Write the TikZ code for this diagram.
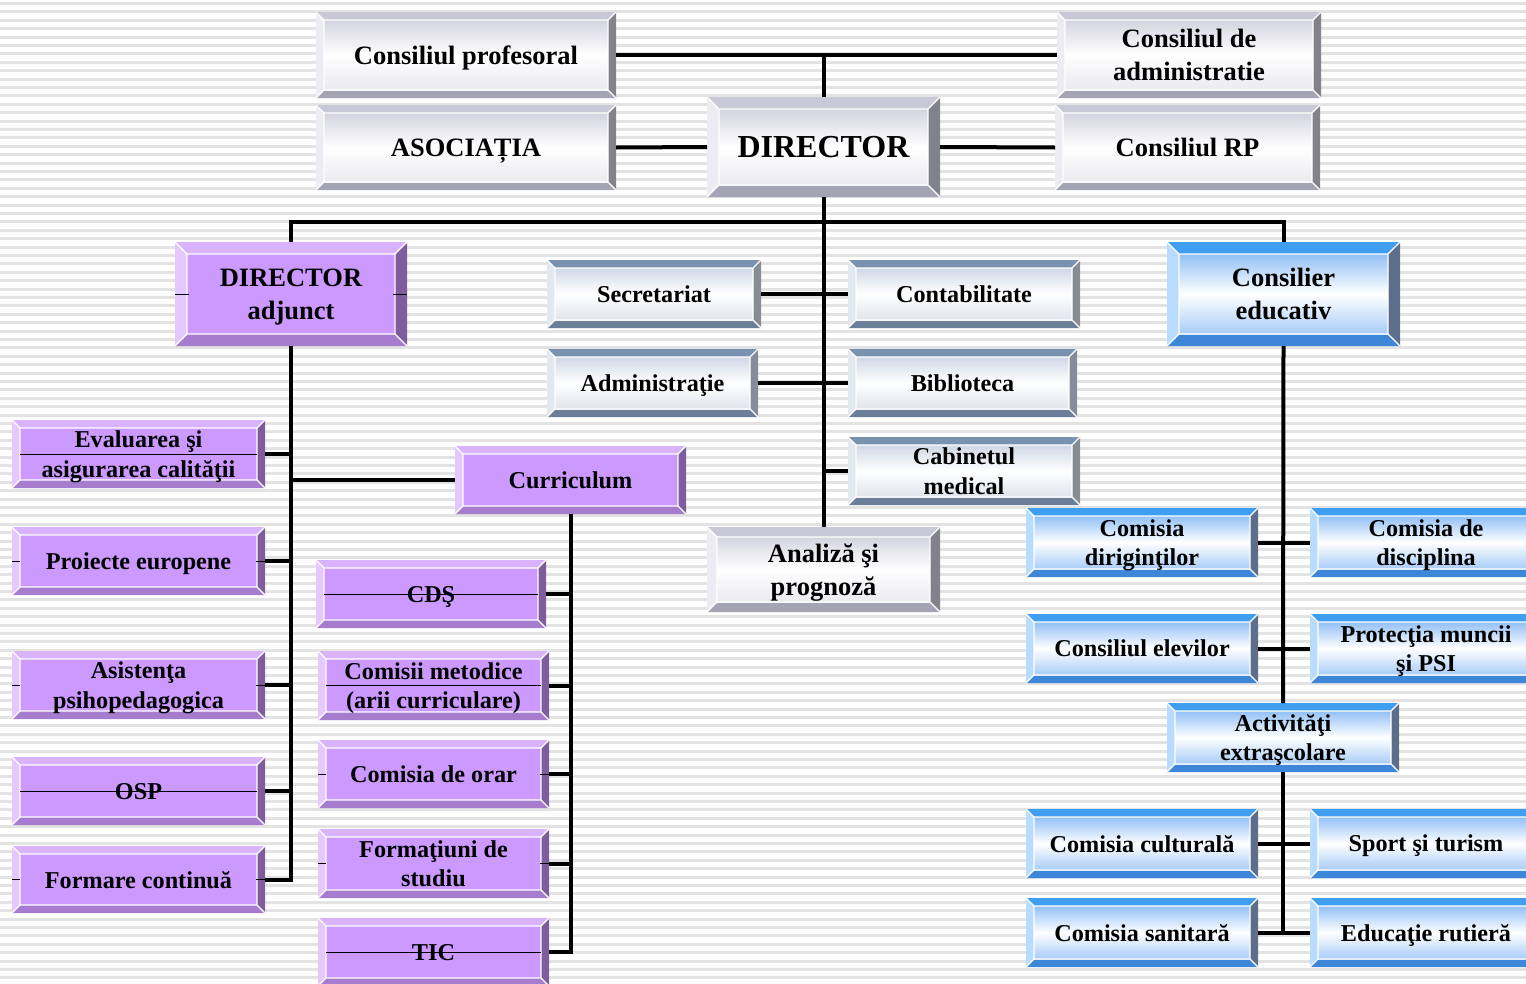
\documentclass[tikz,border=0pt]{standalone}
\usepackage{fontspec}
\setmainfont{Liberation Serif}
\definecolor{stripe}{HTML}{E3E3E3}
\definecolor{pface}{HTML}{CC99FF}
\tikzset{
  x=1pt, y=-1pt,
  bw/.store in=\bevw, bw=8pt,
  ctop/.store in=\cbt, cleft/.store in=\cbl, cbot/.store in=\cbb, cright/.store in=\cbr,
  face/.style={fill=white},
  bevbox/.style={rectangle, inner sep=0pt, outer sep=0pt, align=center, text=black, text depth=-2pt,
    path picture={
      \path (path picture bounding box.north west) coordinate (bvo1)
            (path picture bounding box.north east) coordinate (bvo2)
            (path picture bounding box.south east) coordinate (bvo3)
            (path picture bounding box.south west) coordinate (bvo4);
      \path ([shift={(\bevw,-\bevw)}]bvo1) coordinate (bvi1)
            ([shift={(-\bevw,-\bevw)}]bvo2) coordinate (bvi2)
            ([shift={(-\bevw,\bevw)}]bvo3) coordinate (bvi3)
            ([shift={(\bevw,\bevw)}]bvo4) coordinate (bvi4);
      \fill[fill=\cbt] (bvo1)--(bvo2)--(bvi2)--(bvi1)--cycle;
      \fill[fill=\cbr] (bvo2)--(bvo3)--(bvi3)--(bvi2)--cycle;
      \fill[fill=\cbb] (bvo3)--(bvo4)--(bvi4)--(bvi3)--cycle;
      \fill[fill=\cbl] (bvo4)--(bvo1)--(bvi1)--(bvi4)--cycle;
      \fill[face] (bvi1) rectangle (bvi3);
      \draw[white, line width=1.2pt] (bvi1) rectangle (bvi3)
            (bvo1)--(bvi1) (bvo2)--(bvi2) (bvo3)--(bvi3) (bvo4)--(bvi4);
    }},
  silver/.style={bevbox, ctop={rgb,255:red,200;green,200;blue,214}, cleft={rgb,255:red,236;green,236;blue,242},
    cbot={rgb,255:red,164;green,164;blue,180}, cright={rgb,255:red,130;green,130;blue,140},
    face/.style={top color={rgb,255:red,212;green,212;blue,224}, bottom color={rgb,255:red,234;green,234;blue,240}, middle color=white}},
  steel/.style={bevbox, ctop={rgb,255:red,120;green,146;blue,176}, cleft={rgb,255:red,226;green,232;blue,240},
    cbot={rgb,255:red,108;green,127;blue,152}, cright={rgb,255:red,136;green,140;blue,150},
    face/.style={top color={rgb,255:red,208;green,216;blue,230}, bottom color={rgb,255:red,224;green,228;blue,236}, middle color=white}},
  purp/.style={bevbox, ctop={rgb,255:red,218;green,179;blue,255}, cleft={rgb,255:red,228;green,200;blue,255},
    cbot={rgb,255:red,166;green,124;blue,206}, cright={rgb,255:red,126;green,92;blue,158},
    face/.style={fill=pface}},
  blu/.style={bevbox, ctop={rgb,255:red,64;green,158;blue,240}, cleft={rgb,255:red,184;green,220;blue,255},
    cbot={rgb,255:red,62;green,134;blue,216}, cright={rgb,255:red,92;green,110;blue,140},
    face/.style={top color={rgb,255:red,146;green,192;blue,246}, bottom color={rgb,255:red,168;green,204;blue,248}, middle color=white}},
  f24/.style={font=\fontsize{24.2}{29.5}\selectfont\bfseries},
  f26/.style={font=\fontsize{26.5}{32.5}\selectfont\bfseries},
  f32/.style={font=\fontsize{32}{38}\selectfont\bfseries},
  conn/.style={line width=4pt, black},
  hair/.style={line width=0.9pt, black},
}
\begin{document}
\begin{tikzpicture}
\useasboundingbox (0,0) rectangle (1526,983);
\clip (0,0) rectangle (1526,983);
\fill[white] (0,0) rectangle (1526,983);
\foreach \k in {0,...,117} {\fill[stripe] (0,{2+\k*8.4}) rectangle (1526,{5+\k*8.4});}

% top level
\node[silver, f26, minimum width=300pt, minimum height=86pt] (prof) at (466,55) {Consiliul profesoral};
\node[silver, f26, minimum width=300pt, minimum height=85pt] (asoc) at (466,147.5) {ASOCIAȚIA};
\node[silver, f32, bw=12pt, minimum width=233pt, minimum height=100pt] (dir) at (823.5,147) {DIRECTOR};
\node[silver, f26, minimum width=264pt, minimum height=86pt] (admin) at (1189,55) {Consiliul de\\administratie};
\node[silver, f26, minimum width=265pt, minimum height=85pt] (crp) at (1187.5,147.5) {Consiliul RP};

\node[purp, f26, bw=12pt, minimum width=232pt, minimum height=104pt] (adj) at (291,294) {DIRECTOR\\adjunct};
\node[blu, f26, bw=12pt, minimum width=233pt, minimum height=104pt] (cons) at (1283.5,294) {Consilier\\educativ};

\node[steel, f24, minimum width=214pt, minimum height=68pt] (secr) at (654,294) {Secretariat};
\node[steel, f24, minimum width=232pt, minimum height=68pt] (contab) at (964,294) {Contabilitate};
\node[steel, f24, minimum width=211pt, minimum height=68pt] (admn) at (652.5,383) {Administraţie};
\node[steel, f24, minimum width=229pt, minimum height=68pt] (bibl) at (962.5,383) {Biblioteca};
\node[steel, f24, minimum width=232pt, minimum height=68pt] (cab) at (964,471) {Cabinetul\\medical};
\node[silver, f26, bw=10pt, minimum width=233pt, minimum height=85pt] (anal) at (823.5,569.5) {Analiză şi\\prognoză};

% left branch
\node[purp, f24, minimum width=231pt, minimum height=68pt] (curr) at (570.5,480) {Curriculum};
\node[purp, f24, minimum width=253pt, minimum height=68pt] (eval) at (138.5,454) {Evaluarea şi\\asigurarea calităţii};
\node[purp, f24, minimum width=253pt, minimum height=68pt] (proi) at (138.5,561) {Proiecte europene};
\node[purp, f24, minimum width=253pt, minimum height=68pt] (asis) at (138.5,685) {Asistenţa\\psihopedagogica};
\node[purp, f24, minimum width=253pt, minimum height=68pt] (osp) at (138.5,791) {OSP};
\node[purp, f24, minimum width=253pt, minimum height=67pt] (form) at (138.5,879.5) {Formare continuă};

\node[purp, f24, minimum width=230pt, minimum height=68pt] (cds) at (431,594) {CDŞ};
\node[purp, f24, minimum width=231pt, minimum height=69pt] (comet) at (433.5,685.5) {Comisii metodice\\(arii curriculare)};
\node[purp, f24, minimum width=231pt, minimum height=68pt] (orar) at (433.5,774) {Comisia de orar};
\node[purp, f24, minimum width=231pt, minimum height=69pt] (fstud) at (433.5,863.5) {Formaţiuni de\\studiu};
\node[purp, f24, minimum width=231pt, minimum height=68pt] (tic) at (433.5,952) {TIC};

% right branch
\node[blu, f24, minimum width=232pt, minimum height=69pt] (dirig) at (1142,542.5) {Comisia\\diriginţilor};
\node[blu, f24, minimum width=232pt, minimum height=69pt] (disc) at (1426,542.5) {Comisia de\\disciplina};
\node[blu, f24, minimum width=232pt, minimum height=69pt] (elev) at (1142,648.5) {Consiliul elevilor};
\node[blu, f24, minimum width=232pt, minimum height=69pt] (prot) at (1426,648.5) {Protecţia muncii\\şi PSI};
\node[blu, f24, minimum width=232pt, minimum height=69pt] (activ) at (1283,737.5) {Activităţi\\extraşcolare};
\node[blu, f24, minimum width=232pt, minimum height=69pt] (cult) at (1142,843.5) {Comisia culturală};
\node[blu, f24, minimum width=232pt, minimum height=69pt] (sport) at (1426,843.5) {Sport şi turism};
\node[blu, f24, minimum width=232pt, minimum height=69pt] (sanit) at (1142,932.5) {Comisia sanitară};
\node[blu, f24, minimum width=232pt, minimum height=69pt] (educ) at (1426,932.5) {Educaţie rutieră};

% connectors: top
\draw[conn] (prof.east) -- (admin.west);
\draw[conn] (prof.east -| dir.north) -- (dir.north);
\draw[conn] (asoc.east) -- (dir.west);
\draw[conn] (dir.east) -- (crp.west);
\draw[conn] (dir.south) -- (anal.north);
\coordinate (bar) at (823.5,222);
\draw[conn] (adj.north) -- (adj.north |- bar) -- (cons.north |- bar) -- (cons.north);
\draw[conn] (secr.east) -- (contab.west);
\draw[conn] (admn.east) -- (bibl.west);
\draw[conn] (cab.west) -- (cab.west -| dir.south);

% left
\draw[conn] (adj.south) |- (form.east);
\foreach \n in {eval,proi,asis,osp} \draw[conn] (\n.east) -- (\n.east -| adj.south);
\draw[conn] (curr.west) -- (curr.west -| adj.south);
\draw[conn] (curr.south) |- (tic.east);
\foreach \n in {cds,comet,orar,fstud} \draw[conn] (\n.east) -- (\n.east -| curr.south);

% right
\draw[conn] (cons.south) -- (activ.north);
\draw[conn] (activ.south) -- (activ.south |- sanit.east);
\draw[conn] (dirig.east) -- (disc.west);
\draw[conn] (elev.east) -- (prot.west);
\draw[conn] (cult.east) -- (sport.west);
\draw[conn] (sanit.east) -- (educ.west);

% thin lines over some boxes
\foreach \n in {eval,osp,cds,comet,tic}
  \draw[hair] ([xshift=8pt]\n.west) -- ([xshift=-8pt]\n.east);
\foreach \n in {proi,asis,form,orar,fstud}
  \draw[hair] (\n.west) -- ([xshift=8pt]\n.west) ([xshift=-9pt]\n.east) -- (\n.east);
\draw[hair] (adj.west) -- ([xshift=14pt]adj.west) ([xshift=-14pt]adj.east) -- (adj.east);
\end{tikzpicture}
\end{document}
